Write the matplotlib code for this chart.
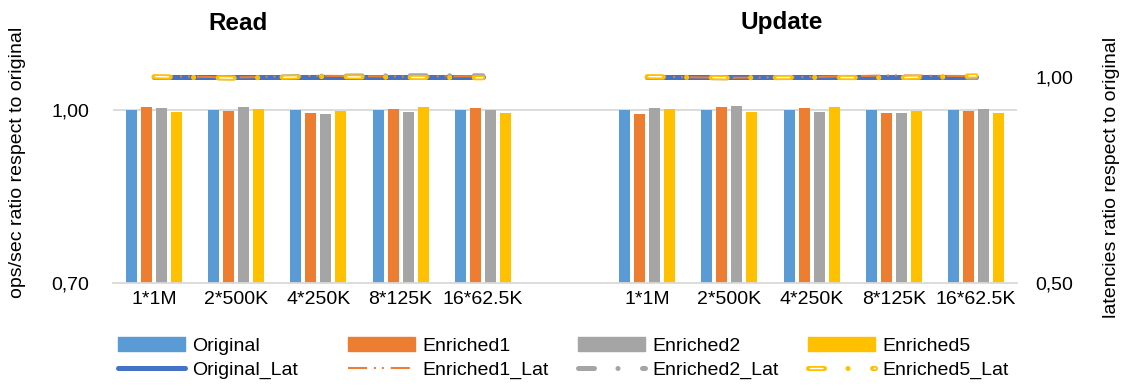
import numpy as np
import matplotlib
matplotlib.use('Agg')
import matplotlib.pyplot as plt
from matplotlib.patches import Patch
from matplotlib.legend_handler import HandlerTuple

plt.rcParams['font.family'] = ['Liberation Sans', 'DejaVu Sans']
plt.rcParams['lines.scale_dashes'] = False

# workloads: 5 read + gap + 5 update
categories = ['1*1M', '2*500K', '4*250K', '8*125K', '16*62.5K', '',
              '1*1M', '2*500K', '4*250K', '8*125K', '16*62.5K']

# throughput ratios (left axis)
original = [1.000, 1.000, 1.000, 1.000, 1.000, np.nan,
            1.000, 1.000, 1.000, 1.000, 1.000]
enriched1 = [1.005, 0.998, 0.995, 1.002, 1.004, np.nan,
             0.993, 1.005, 1.003, 0.995, 0.998]
enriched2 = [1.003, 1.005, 0.993, 0.996, 0.999, np.nan,
             1.004, 1.006, 0.997, 0.994, 1.002]
enriched5 = [0.997, 1.002, 0.998, 1.005, 0.994, np.nan,
             1.002, 0.997, 1.005, 0.998, 0.995]

# latency ratios (right axis)
original_lat = [1.000, 1.000, 1.000, 1.000, 1.000, np.nan,
                1.000, 1.000, 1.000, 1.000, 1.000]
enriched1_lat = [1.002, 0.999, 1.003, 1.001, 1.002, np.nan,
                 1.001, 0.998, 1.000, 1.004, 1.002]
enriched2_lat = [0.999, 0.998, 1.002, 1.003, 1.003, np.nan,
                 0.999, 0.998, 0.999, 0.999, 0.999]
enriched5_lat = [1.001, 0.997, 1.001, 0.999, 0.998, np.nan,
                 1.001, 0.998, 0.999, 0.998, 1.003]

c_blue = '#5B9BD5'
c_orange = '#ED7D31'
c_gray = '#A5A5A5'
c_yellow = '#FFC000'
c_dblue = '#4472C4'

fig = plt.figure(figsize=(11.23, 3.88), dpi=100)
ax = fig.add_axes([113 / 1123, 105 / 388, 904 / 1123, 247 / 388])
ax2 = ax.twinx()

x = np.arange(len(categories))
pitch = 0.1825
bw = 0.134
bars = [(original, c_blue), (enriched1, c_orange),
        (enriched2, c_gray), (enriched5, c_yellow)]
for i, (vals, col) in enumerate(bars):
    ax.bar(x + (i - 1.5) * pitch, vals, bw, color=col, zorder=2)

ax.set_xlim(-0.5, len(categories) - 0.5)
ax.set_ylim(0.70, 1.128)
ax.set_yticks([0.70, 1.00])
ax.set_yticklabels(['0,70', '1,00'])
ax.set_xticks(x)
ax.set_xticklabels(categories)
ax.axhline(1.0, color='#D9D9D9', lw=1.3, zorder=1)
ax.tick_params(axis='y', length=0, pad=17, labelsize=14)
ax.tick_params(axis='x', length=0, pad=6, labelsize=14)
for s in ['top', 'left', 'right']:
    ax.spines[s].set_visible(False)
    ax2.spines[s].set_visible(False)
ax.spines['bottom'].set_color('#D9D9D9')
ax.spines['bottom'].set_linewidth(1.3)
ax2.spines['bottom'].set_visible(False)

# latency lines, dash patterns in points
dd_long = (0, (11.5, 16.9, 0.1, 17.6))
dd_orange = (0, (13.7, 5.0, 1.4, 4.3, 1.4, 5.0))
dd_inner = (44.9, (9.2, 36.9))

l0, = ax2.plot(x, original_lat, color=c_dblue, lw=3.6,
               solid_capstyle='round', zorder=3)
l1, = ax2.plot(x, enriched1_lat, color=c_orange, lw=1.5,
               linestyle=dd_orange, zorder=4)
l2, = ax2.plot(x, enriched2_lat, color=c_gray, lw=3.6,
               linestyle=dd_long, dash_capstyle='round', zorder=5)
l5a, = ax2.plot(x, enriched5_lat, color=c_yellow, lw=3.6,
                linestyle=dd_long, dash_capstyle='round', zorder=6)
l5b, = ax2.plot(x, enriched5_lat, color='white', lw=1.0,
                linestyle=dd_inner, dash_capstyle='round', zorder=7)

ax2.set_ylim(0.50, 1.0995)
ax2.set_yticks([0.50, 1.00])
ax2.set_yticklabels(['0,50', '1,00'])
ax2.tick_params(axis='y', length=0, pad=13, labelsize=14)

fig.text(18 / 1123, 1 - 162 / 388, 'ops/sec ratio respect to original',
         rotation=90, ha='center', va='center', fontsize=14)
fig.text(1112 / 1123, 1 - 177 / 388, 'latencies ratio respect to original',
         rotation=90, ha='center', va='center', fontsize=14)

fig.text(238 / 1123, 1 - 23 / 388, 'Read', ha='center', va='center',
         fontsize=17.5, fontweight='bold')
fig.text(782 / 1123, 1 - 23 / 388, 'Update', ha='center', va='center',
         fontsize=17.5, fontweight='bold')

# legend: four fixed-width columns
columns = [
    (Patch(color=c_blue), 'Original', l0, 'Original_Lat'),
    (Patch(color=c_orange), 'Enriched1', l1, 'Enriched1_Lat'),
    (Patch(color=c_gray), 'Enriched2', l2, 'Enriched2_Lat'),
    (Patch(color=c_yellow), 'Enriched5', (l5a, l5b), 'Enriched5_Lat'),
]
for k, (bh, bl, lh, ll) in enumerate(columns):
    fig.legend([bh, lh], [bl, ll], loc='upper left',
               bbox_to_anchor=((118 + 230 * k) / 1123, 1 - 337 / 388),
               frameon=False, fontsize=14, handlelength=3.45,
               handletextpad=0.35, labelspacing=0.35, borderpad=0,
               borderaxespad=0,
               handler_map={tuple: HandlerTuple(ndivide=1, pad=0)})

fig.savefig('out.png', dpi=100)
